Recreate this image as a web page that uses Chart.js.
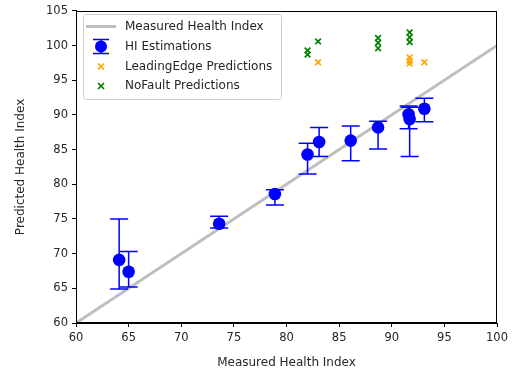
<!DOCTYPE html>
<html>
<head>
<meta charset="utf-8">
<script src="https://cdn.jsdelivr.net/npm/chart.js@4/dist/chart.umd.min.js"></script>
<style>
  html, body { margin: 0; padding: 0; background: #ffffff; }
  #wrap { width: 516px; height: 375px; position: relative; }
</style>
</head>
<body>
<div id="wrap"><canvas id="c" width="516" height="375"></canvas></div>
<script>
// ---- data ----
const measuredHI   = [64.1, 65.0, 73.6, 78.9, 82.0, 83.1, 86.1, 88.7, 91.6, 91.7, 93.1];
const predictedHI  = [69.1, 67.4, 74.3, 78.6, 84.3, 86.1, 86.3, 88.2, 90.1, 89.4, 90.9];
const errLow       = [64.9, 65.2, 73.7, 77.0, 81.5, 84.0, 83.4, 85.1, 88.0, 84.0, 89.0];
const errHigh      = [75.0, 70.3, 75.4, 79.2, 85.9, 88.2, 88.4, 89.1, 91.3, 91.1, 92.4];

const leadingEdgeX = [83.0, 91.7, 91.7, 91.7, 93.1];
const leadingEdgeY = [97.6, 98.3, 97.8, 97.4, 97.6];

const noFaultX     = [82.0, 82.0, 83.0, 88.7, 88.7, 88.7, 91.7, 91.7, 91.7];
const noFaultY     = [99.3, 98.7, 100.6, 101.1, 100.4, 99.6, 101.9, 101.2, 100.5];

const identityLine = [60, 100];

const xTicks = [60, 65, 70, 75, 80, 85, 90, 95, 100];
const yTicks = [60, 65, 70, 75, 80, 85, 90, 95, 100, 105];

const seriesNames = ['Measured Health Index', 'HI Estimations', 'LeadingEdge Predictions', 'NoFault Predictions'];
const xLabel = 'Measured Health Index';
const yLabel = 'Predicted Health Index';

// ---- styles ----
const FONT = '"DejaVu Sans", sans-serif';
const BLUE = '#0000ff', ORANGE = '#ffa500', GREEN = '#008000', GREY = '#bfbfbf';

const pts = (xs, ys) => xs.map((x, i) => ({ x: x, y: ys[i] }));

const errorBarPlugin = {
  id: 'errorBars',
  afterDatasetDraw(chart, args) {
    if (args.index !== 0) return; // draw right after the identity line
    const xs = chart.scales.x, ys = chart.scales.y, ctx = chart.ctx;
    ctx.save();
    ctx.strokeStyle = BLUE;
    ctx.lineWidth = 1.5;
    measuredHI.forEach((mx, i) => {
      const px = xs.getPixelForValue(mx);
      const pLo = ys.getPixelForValue(errLow[i]);
      const pHi = ys.getPixelForValue(errHigh[i]);
      ctx.beginPath();
      ctx.moveTo(px, pLo); ctx.lineTo(px, pHi);
      ctx.moveTo(px - 9, pLo); ctx.lineTo(px + 9, pLo);
      ctx.moveTo(px - 9, pHi); ctx.lineTo(px + 9, pHi);
      ctx.stroke();
    });
    ctx.restore();
  }
};

const framePlugin = {
  id: 'frame',
  afterDatasetsDraw(chart) {
    const a = chart.chartArea, ctx = chart.ctx;
    ctx.save();
    ctx.strokeStyle = '#000';
    ctx.lineWidth = 1;
    ctx.strokeRect(Math.round(a.left) + 0.5, Math.round(a.top) + 0.5,
                   Math.round(a.right - a.left) - 1, Math.round(a.bottom - a.top) - 1);
    ctx.restore();
  }
};

const legendPlugin = {
  id: 'mplLegend',
  afterDraw(chart) {
    const ctx = chart.ctx;
    const bx = 83, by = 14, bw = 198, bh = 85;
    ctx.save();
    ctx.fillStyle = 'rgba(255,255,255,0.8)';
    ctx.strokeStyle = '#cccccc';
    ctx.lineWidth = 1;
    ctx.beginPath();
    ctx.roundRect(bx + 0.5, by + 0.5, bw, bh, 3);
    ctx.fill(); ctx.stroke();
    const rows = [26.5, 46.5, 66.5, 86];
    const hx = 101, tx = 125;
    ctx.font = '12px ' + FONT;
    ctx.fillStyle = '#262626';
    ctx.textBaseline = 'middle';
    rows.forEach((ry, i) => ctx.fillText(seriesNames[i], tx, ry));
    // handle 0: grey line
    ctx.strokeStyle = GREY; ctx.lineWidth = 3;
    ctx.beginPath(); ctx.moveTo(86, rows[0]); ctx.lineTo(116, rows[0]); ctx.stroke();
    // handle 1: errorbar + marker
    ctx.strokeStyle = BLUE; ctx.lineWidth = 1.5;
    ctx.beginPath();
    ctx.moveTo(hx, rows[1] - 7); ctx.lineTo(hx, rows[1] + 7);
    ctx.moveTo(hx - 8, rows[1] - 7); ctx.lineTo(hx + 8, rows[1] - 7);
    ctx.moveTo(hx - 8, rows[1] + 7); ctx.lineTo(hx + 8, rows[1] + 7);
    ctx.stroke();
    ctx.fillStyle = BLUE;
    ctx.beginPath(); ctx.arc(hx, rows[1], 6, 0, Math.PI * 2); ctx.fill();
    // handles 2,3: x markers
    [[ORANGE, rows[2]], [GREEN, rows[3]]].forEach(([col, ry]) => {
      ctx.strokeStyle = col; ctx.lineWidth = 1.7;
      ctx.beginPath();
      ctx.moveTo(hx - 3, ry - 3); ctx.lineTo(hx + 3, ry + 3);
      ctx.moveTo(hx - 3, ry + 3); ctx.lineTo(hx + 3, ry - 3);
      ctx.stroke();
    });
    ctx.restore();
  }
};

Chart.defaults.font.family = FONT;
Chart.defaults.color = '#262626';

new Chart(document.getElementById('c'), {
  type: 'scatter',
  data: {
    datasets: [
      {
        label: seriesNames[0], type: 'line',
        data: pts(identityLine, identityLine),
        borderColor: GREY, borderWidth: 3, pointRadius: 0, fill: false, order: 10
      },
      {
        label: seriesNames[1],
        data: pts(measuredHI, predictedHI),
        backgroundColor: BLUE, borderColor: BLUE, pointRadius: 6.3, pointHoverRadius: 6.3,
        borderWidth: 0, order: 5
      },
      {
        label: seriesNames[2],
        data: pts(leadingEdgeX, leadingEdgeY),
        pointStyle: 'crossRot', borderColor: ORANGE, backgroundColor: ORANGE,
        pointRadius: 4, pointHoverRadius: 4, borderWidth: 1.7, order: 2
      },
      {
        label: seriesNames[3],
        data: pts(noFaultX, noFaultY),
        pointStyle: 'crossRot', borderColor: GREEN, backgroundColor: GREEN,
        pointRadius: 4, pointHoverRadius: 4, borderWidth: 1.7, order: 1
      }
    ]
  },
  options: {
    responsive: false,
    animation: false,
    events: [],
    layout: { padding: { top: 8, right: 19, left: 0, bottom: 0 } },
    plugins: { legend: { display: false }, tooltip: { enabled: false } },
    scales: {
      x: {
        type: 'linear', min: xTicks[0], max: xTicks[xTicks.length - 1],
        afterBuildTicks: s => { s.ticks = xTicks.map(v => ({ value: v })); },
        afterFit: s => { s.height = 52; },
        grid: { display: true, drawOnChartArea: false, drawTicks: true, tickLength: 4, color: '#000', tickWidth: 1 },
        border: { display: true, color: '#000', width: 1 },
        ticks: { font: { size: 11.5 }, padding: 4, maxRotation: 0, color: '#262626' },
        title: { display: true, text: xLabel, font: { size: 12 }, padding: { top: 0, bottom: 5 }, color: '#262626' }
      },
      y: {
        type: 'linear', min: yTicks[0], max: yTicks[yTicks.length - 1],
        afterBuildTicks: s => { s.ticks = yTicks.map(v => ({ value: v })); },
        afterFit: s => { s.width = 76; },
        grid: { display: true, drawOnChartArea: false, drawTicks: true, tickLength: 4, color: '#000', tickWidth: 1 },
        border: { display: true, color: '#000', width: 1 },
        ticks: { font: { size: 11.5 }, padding: 4, color: '#262626' },
        title: { display: true, text: yLabel, font: { size: 12 }, padding: { top: 14, bottom: 0 }, color: '#262626' }
      }
    }
  },
  plugins: [errorBarPlugin, framePlugin, legendPlugin]
});
</script>
</body>
</html>
